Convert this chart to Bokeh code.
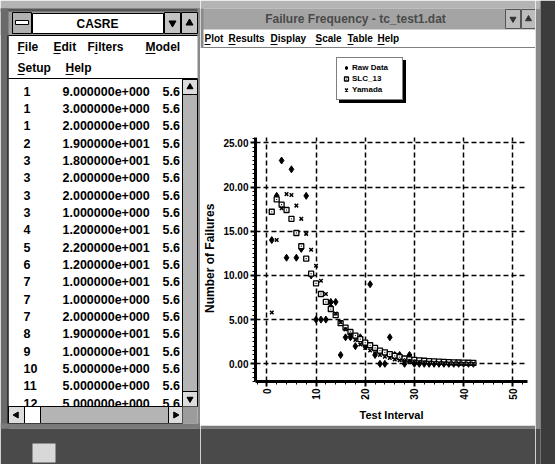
import math
from bokeh.plotting import figure
from bokeh.models import (Range1d, Legend, LegendItem, SingleIntervalTicker,
                          PrintfTickFormatter)
from bokeh.layouts import row, column
from bokeh.core.properties import value
from bokeh.embed import file_html
from bokeh.resources import INLINE

FONT = "Liberation Sans"

# ---------------- data ----------------
test_interval = list(range(1, 43))
raw_data = [14, 19, 23, 12, 22, 12, 13, 19, 10, 5, 5, 5, 7, 7, 1, 3, 3, 2, 3, 2,
            9, 1, 0, 0, 3, 1, 1, 0, 1, 0, 0, 0, 0, 0, 0, 0, 0, 0, 0, 0, 0, 0]
slc_13 = [17.2, 18.6, 18.0, 17.4, 16.4, 14.8, 13.3, 11.9, 10.2, 9.1, 7.9, 7.0,
          6.2, 5.5, 4.6, 4.1, 3.6, 3.2, 2.8, 2.4, 2.1, 1.8, 1.5, 1.3, 1.1, 0.9,
          0.75, 0.6, 0.5, 0.45, 0.4, 0.35, 0.3, 0.27, 0.24, 0.21, 0.19, 0.17,
          0.15, 0.13, 0.12, 0.1]
yamada = [5.8, 14.0, 17.6, 19.2, 19.1, 17.9, 16.4, 14.7, 12.9, 11.1, 9.4, 7.9,
          6.7, 5.7, 4.7, 3.9, 3.3, 2.7, 2.2, 1.8, 1.5, 1.2, 1.0, 0.8, 0.65, 0.5,
          0.4, 0.35, 0.3, 0.25, 0.2, 0.17, 0.14, 0.12, 0.1, 0.08, 0.07, 0.06,
          0.05, 0.04, 0.03, 0.03]
series_names = ["Raw Data", "SLC_13", "Yamada"]
x_ticks = [0, 10, 20, 30, 40, 50]
y_bounds = (-2.0, 25.6)

table_interval = [1, 1, 1, 2, 3, 3, 3, 3, 4, 5, 6, 7, 7, 7, 8, 9, 10, 11, 12]
table_failures = [9, 3, 2, 19, 18, 2, 2, 1, 12, 22, 12, 10, 1, 2, 19, 10, 5, 5, 5]
table_third = "5.6"

left_title = "CASRE"
left_menu_1 = ["File", "Edit", "Filters", "Model"]
left_menu_2 = ["Setup", "Help"]
right_title = "Failure Frequency - tc_test1.dat"
right_menu = ["Plot", "Results", "Display", "Scale", "Table", "Help"]
x_label = "Test Interval"
y_label = "Number of Failures"


def sci(v):
    e = int(math.floor(math.log10(abs(v))))
    m = v / 10 ** e
    return f"{m:.6f}e{'+' if e >= 0 else '-'}{abs(e):03d}"


def panel(x0, x1, y0, y1):
    p = figure(width=x1 - x0, height=y1 - y0,
               x_range=Range1d(x0, x1), y_range=Range1d(y1, y0),
               x_axis_location=None, y_axis_location=None,
               toolbar_location=None, output_backend="svg", min_border=0,
               background_fill_color="white", border_fill_color="white",
               outline_line_color=None)
    p.grid.visible = False
    return p


def box(p, l, r, t, b, fill, line=None, lw=1):
    p.quad(left=[l], right=[r], top=[t], bottom=[b], fill_color=fill,
           line_color=line, line_width=lw)


def txt(p, xs, ys, texts, size="12px", align="left", color="black"):
    p.text(x=xs, y=ys, text=texts, text_font=value(FONT),
           text_font_style="bold", text_font_size=size, text_align=align,
           text_baseline="middle", text_color=color)


DESK = "#b4b4b4"
FRAME = "#7a7a7a"
WALL = "#4a4a4a"

# ---------------- left window ----------------
L = panel(0, 200, 0, 464)
box(L, 0, 200, 0, 8, DESK)
box(L, 0, 200, 8, 35, "#9c9c9c")
box(L, 0, 200, 8, 11, "#555555")
box(L, 0, 8, 8, 428, "#6a6a6a")
box(L, 7, 8, 35, 428, "black")
box(L, 197, 200, 8, 428, "#8a8a8a")
box(L, 12, 31, 12, 33, "#b0b0b0", "black")
box(L, 15, 28, 20, 24, "white", "black")
box(L, 32, 163, 13, 33, "white", "black")
txt(L, [97], [23.5], [left_title], "12px", "center")
box(L, 164, 180, 12, 33, "#c4c4c4", "black")
box(L, 181, 197, 12, 33, "#c4c4c4", "black")
L.scatter([172, 189], [22.5, 22.5], marker=["inverted_triangle", "triangle"],
          size=7, color="black")
L.segment(x0=[8], y0=[35], x1=[197], y1=[35], line_color="black")

m1x = [17, 53, 87, 145]
txt(L, m1x, [46] * 4, left_menu_1, "12px")
m2x = [17, 65]
txt(L, m2x, [67] * 2, left_menu_2, "12px")
ul_x0 = [m1x[0], m1x[1], m1x[2] + 7, m1x[3], m2x[0], m2x[1]]
ul_w = [7, 7, 3, 10, 7, 8]
ul_y = [53, 53, 53, 53, 74, 74]
L.segment(x0=ul_x0, y0=ul_y, x1=[a + w for a, w in zip(ul_x0, ul_w)],
          y1=ul_y, line_color="black", line_width=1)
L.segment(x0=[8], y0=[78], x1=[197], y1=[78], line_color="black")

row_y = [90.5 + 17.35 * i for i in range(len(table_interval))]
txt(L, [23] * len(row_y), row_y, [str(v) for v in table_interval], "12.5px")
txt(L, [62] * len(row_y), row_y, [sci(v) for v in table_failures], "12.5px")
txt(L, [162] * len(row_y), row_y, [table_third] * len(row_y), "12.5px")

box(L, 182, 197, 78.5, 406, "#b4b4b4", "black")
box(L, 182, 197, 79, 94, "#dcdcdc", "black")
box(L, 182, 197, 391, 406, "#dcdcdc", "black")
L.scatter([189.5, 189.5], [86.5, 398.5], marker=["triangle", "inverted_triangle"],
          size=6, color="black")
box(L, 8, 182, 406, 423, "#b4b4b4", "black")
box(L, 8, 24, 406, 423, "#dcdcdc", "black")
box(L, 24, 40, 406, 423, "white", "black")
box(L, 168, 182, 406, 423, "#dcdcdc", "black")
L.scatter([16, 175], [414.5, 414.5], marker=["triangle", "triangle"],
          angle=[math.pi / 2, -math.pi / 2], size=6, color="black")
box(L, 182, 197, 406, 423, "#9c9c9c")
box(L, 0, 200, 423, 428, FRAME)
box(L, 0, 200, 428, 464, WALL)
box(L, 32, 55, 443, 462, "#d8d8d8")

# ---------------- right window: title + menu ----------------
R1 = panel(200, 535, 0, 48)
box(R1, 200, 535, 0, 8, DESK)
box(R1, 200, 535, 8, 29, "#a4a4a4")
txt(R1, [355], [18.5], [right_title], "12px", "center", "#4a4a4a")
box(R1, 505, 520, 9, 28, "#bcbcbc", "#555555")
box(R1, 521, 535, 9, 28, "#bcbcbc", "#555555")
R1.scatter([512.5, 528], [18.5, 18.5], marker=["inverted_triangle", "triangle"],
           size=6, color="#333333")
box(R1, 200, 203, 8, 48, "#8a8a8a")
rmx = [204, 228, 270, 315, 347, 377]
txt(R1, rmx, [38] * 6, right_menu, "10px")
ulw = [6, 7, 7, 6, 6, 7]
R1.segment(x0=rmx, y0=[44] * 6, x1=[x + w for x, w in zip(rmx, ulw)],
           y1=[44] * 6, line_color="black")
R1.segment(x0=[203], y0=[47.5], x1=[535], y1=[47.5], line_color="black")

# ---------------- chart ----------------
P = figure(width=335, height=377, x_range=Range1d(-2.31, 53.0),
           y_range=Range1d(-2.0, 35.67), toolbar_location=None,
           output_backend="svg", min_border_left=52, min_border_right=8,
           min_border_top=0, min_border_bottom=44,
           background_fill_color="white", border_fill_color="white",
           outline_line_color=None)
P.xaxis.ticker = SingleIntervalTicker(interval=10, num_minor_ticks=5)
P.yaxis.ticker = SingleIntervalTicker(interval=5, num_minor_ticks=10)
P.yaxis.bounds = y_bounds
P.xaxis.formatter = PrintfTickFormatter(format="%d")
P.yaxis.formatter = PrintfTickFormatter(format="%.2f")
P.xaxis.major_label_orientation = math.pi / 2
P.xaxis.axis_label = x_label
# the frame also holds the legend area above the axis; pad the label with
# no-break spaces so that it sits centred on the drawn part of the axis
P.yaxis.axis_label = y_label + "\u00a0" * 26
for ax in (P.xaxis[0], P.yaxis[0]):
    ax.axis_line_width = 3
    ax.axis_line_color = "black"
    ax.major_tick_line_width = 2
    ax.major_tick_line_color = "black"
    ax.major_tick_out = 5
    ax.major_tick_in = 0
    ax.minor_tick_out = 3
    ax.minor_tick_in = 0
    ax.minor_tick_line_color = "black"
    ax.major_label_text_font = FONT
    ax.major_label_text_font_style = "bold"
    ax.major_label_text_font_size = "10px"
    ax.major_label_text_color = "black"
    ax.major_label_standoff = 2
    ax.axis_label_text_font = FONT
    ax.axis_label_text_font_style = "bold"
    ax.axis_label_text_color = "black"
P.xaxis.axis_label_text_font_size = "11px"
P.yaxis.axis_label_text_font_size = "12px"
P.xaxis.axis_label_standoff = 6
P.yaxis.axis_label_standoff = 3

P.ygrid.bounds = y_bounds
for g in (P.xgrid[0], P.ygrid[0]):
    g.grid_line_color = "black"
    g.grid_line_dash = "5 3"
    g.grid_line_width = 1.5
try:
    P.xgrid[0].cross_bounds = y_bounds
except Exception:
    P.xgrid.visible = False
    P.segment(x0=x_ticks, y0=[y_bounds[0]] * len(x_ticks), x1=x_ticks,
              y1=[y_bounds[1]] * len(x_ticks), line_color="black",
              line_dash="5 3", line_width=1.5)

r_raw = P.scatter(test_interval, raw_data, marker="diamond", size=7, color="black")
r_slc = P.scatter(test_interval, slc_13, marker="square_dot", size=5,
                  fill_color="white", line_color="black", line_width=1.3)
r_yam = P.scatter(test_interval, yamada, marker="x", size=5,
                  line_color="black", line_width=1.5)
r_dummy = P.scatter(x=[], y=[], alpha=0)

shadow = Legend(items=[LegendItem(label=" ", renderers=[r_dummy])],
                location=(84, 278), glyph_width=10, glyph_height=33,
                label_height=33, label_width=46, label_standoff=1, padding=4,
                spacing=0, margin=0, background_fill_color="black",
                background_fill_alpha=1, border_line_color="black")
legend = Legend(items=[LegendItem(label=n, renderers=[r])
                       for n, r in zip(series_names, [r_raw, r_slc, r_yam])],
                location=(81, 281), glyph_width=10, glyph_height=11,
                label_height=11, label_width=46, label_standoff=1, padding=4,
                spacing=0, margin=0, background_fill_color="white",
                background_fill_alpha=1, border_line_color="black",
                border_line_width=1, label_text_font=FONT,
                label_text_color="black",
                label_text_font_style="bold", label_text_font_size="8px")
P.add_layout(shadow, "center")
P.add_layout(legend, "center")

# ---------------- bottom / right desktop ----------------
R3 = panel(200, 535, 425, 464)
box(R3, 200, 535, 425, 428, FRAME)
box(R3, 200, 535, 428, 464, WALL)

D = panel(535, 555, 0, 464)
box(D, 535, 540, 0, 8, DESK)
box(D, 535, 540, 8, 428, "#8a8a8a")
box(D, 540, 555, 0, 464, "#3c3c3c")
box(D, 535, 540, 428, 464, WALL)

layout = row(L, column(R1, column(P), R3), D)
open("out.html", "w").write(file_html(layout, INLINE))
